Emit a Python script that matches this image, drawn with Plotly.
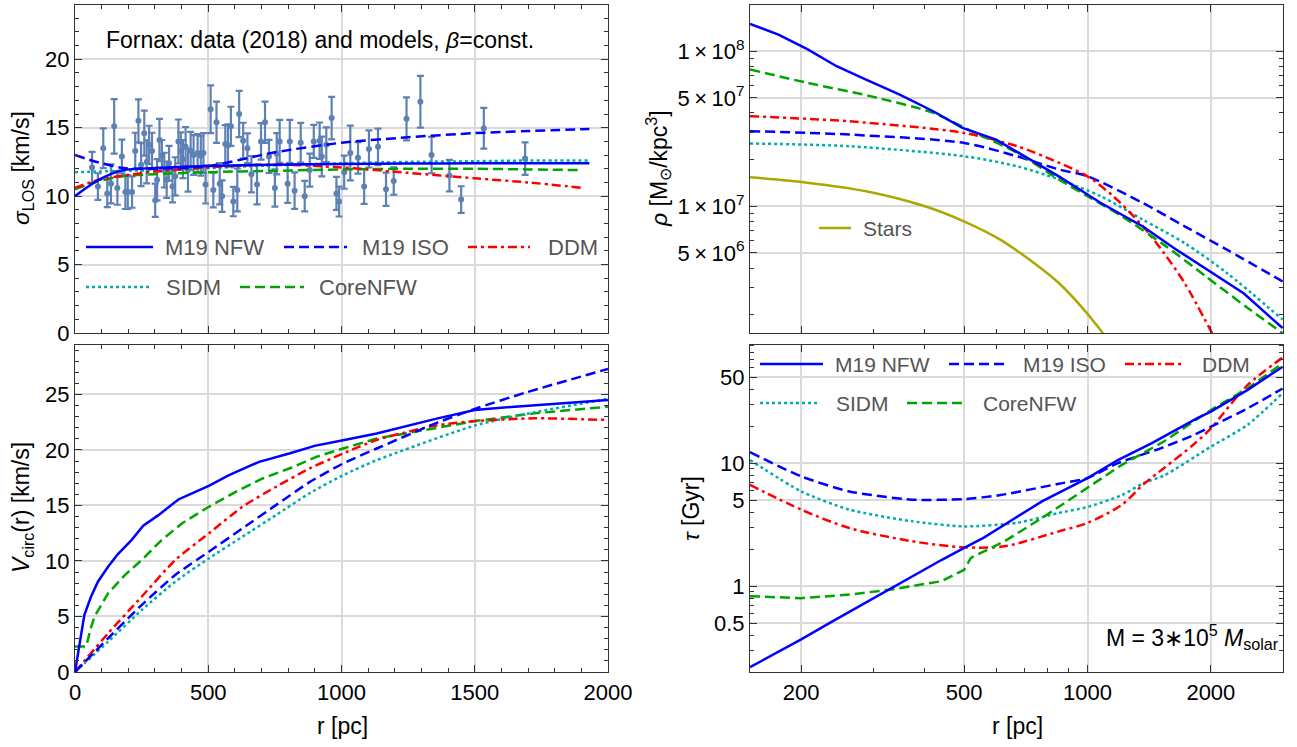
import plotly.graph_objects as go
import math

# ---------------- data: Fornax velocity dispersion points ----------------
r_obs = [64, 86, 106, 121, 135, 147, 159, 176, 189, 198, 214, 226, 238, 248, 260, 269, 278, 289,
         301, 308, 317, 326, 335, 344, 353, 366, 376, 388, 397, 405, 415, 424, 434, 445, 460, 472,
         482, 490, 509, 519, 531, 543, 552, 564, 574, 585, 594, 609, 616, 631, 647, 662, 683, 698,
         713, 728, 750, 757, 768, 798, 806, 824, 847, 862, 881, 896, 918, 926, 943, 963, 981, 991,
         1010, 1033, 1062, 1085, 1103, 1137, 1167, 1196, 1244, 1296, 1338, 1405, 1449, 1534, 1689]
sig_obs = [12.1, 10.7, 13.5, 10.2, 10.9, 15.1, 10.6, 12.9, 10.3, 10.3, 10.3, 13.3, 15.5, 12.3, 14.6,
           12.5, 13.75, 13.3, 9.7, 11.2, 14.1, 12.95, 11.9, 11.2, 12.4, 10.7, 11.45, 14.0, 13.3, 12.7,
           13.6, 11.9, 13.3, 13.0, 13.15, 12.95, 13.15, 10.85, 16.35, 10.45, 15.4, 10.9, 10.0, 13.8,
           13.7, 15.1, 9.6, 10.45, 16.0, 14.05, 13.5, 11.6, 10.85, 14.0, 15.4, 12.9, 10.6, 13.1, 14.0,
           10.9, 14.0, 10.4, 13.9, 10.0, 11.9, 14.0, 14.05, 12.9, 13.75, 15.7, 10.2, 9.6, 11.75, 13.15,
           12.8, 10.7, 13.45, 13.6, 10.5, 11.1, 15.65, 16.9, 13.0, 11.5, 9.75, 14.96, 12.74]
err_obs = [1.13, 0.97, 1.45, 1.0, 1.43, 1.99, 1.23, 1.23, 1.24, 1.24, 1.15, 1.33, 1.57, 1.57, 1.64,
           1.57, 1.39, 1.33, 1.21, 1.51, 1.55, 1.15, 1.27, 1.33, 1.27, 1.15, 1.39, 1.6, 1.36, 1.39,
           1.45, 1.57, 1.39, 1.45, 1.39, 1.45, 1.45, 1.39, 1.74, 1.27, 1.51, 1.51, 1.15, 1.39, 1.54,
           1.43, 1.07, 1.57, 1.69, 1.31, 1.09, 1.33, 1.45, 1.33, 1.51, 1.21, 1.36, 1.51, 1.57, 1.39,
           1.57, 1.33, 1.45, 1.11, 1.21, 1.21, 1.33, 1.45, 1.27, 1.55, 1.21, 1.09, 1.21, 2.0, 1.15,
           1.27, 1.36, 1.33, 1.21, 1.0, 1.57, 1.89, 1.33, 1.15, 0.97, 1.49, 1.19]

# ---------------- sigma_LOS models ----------------
r_sig = [0, 90, 180, 300, 500, 750, 1000, 1250, 1500, 1700, 1930]
sig_nfw = [10.0, 11.2, 11.9, 12.05, 12.2, 12.3, 12.35, 12.38, 12.4, 12.4, 12.4]
sig_iso = [13.0, 12.45, 12.05, 12.0, 12.2, 13.2, 13.9, 14.3, 14.6, 14.75, 14.9]
sig_sidm = [11.75, 11.8, 11.85, 11.9, 12.05, 12.25, 12.4, 12.5, 12.55, 12.6, 12.6]
r_sig2 = [0, 90, 180, 300, 500, 750, 1000, 1250, 1500, 1700, 1905]
sig_ddm = [10.6, 11.2, 11.5, 11.8, 12.1, 12.3, 12.1, 11.7, 11.3, 11.0, 10.6]
sig_core = [10.5, 11.1, 11.45, 11.6, 11.75, 11.85, 11.95, 12.0, 12.0, 11.95, 11.9]

# ---------------- circular velocity ----------------
r_vn = [0, 35, 60, 86, 124, 161, 212, 256, 313, 388, 439, 502, 578, 691, 804, 899, 1006, 1132,
        1353, 1500, 1650, 2000]
v_nfw = [0, 5.13, 6.78, 8.13, 9.48, 10.62, 11.88, 13.17, 14.13, 15.54, 16.08, 16.77, 17.73, 18.93,
         19.68, 20.37, 20.88, 21.48, 22.8, 23.6, 23.9, 24.5]
r_vi = [0, 124, 250, 376, 502, 628, 754, 880, 1006, 1132, 1353, 1500, 1695, 2000]
v_iso = [0, 3.03, 6.03, 8.73, 10.83, 12.93, 15.03, 17.1, 18.78, 20.13, 22.4, 23.7, 25.2, 27.3]
r_vd = [0, 124, 250, 376, 502, 628, 754, 880, 1006, 1132, 1353, 1500, 1725, 2000]
v_ddm = [0, 3.48, 6.78, 10.08, 12.48, 14.88, 16.68, 18.33, 19.68, 20.9, 22.2, 22.6, 22.85, 22.7]
r_vs = [0, 124, 250, 376, 502, 628, 754, 880, 1006, 1132, 1500, 1725, 2000]
v_sidm = [0, 2.73, 5.58, 8.13, 10.23, 12.18, 14.13, 16.1, 17.73, 19.08, 22.2, 23.4, 24.6]
r_vc = [0, 42, 60, 73, 124, 187, 250, 325, 401, 502, 603, 704, 804, 905, 1006, 1132, 1500, 1725, 2000]
v_core = [2.3, 2.3, 4.0, 4.98, 7.08, 8.73, 10.08, 11.88, 13.38, 14.88, 16.23, 17.43, 18.33, 19.38,
          20.13, 21.03, 22.6, 23.3, 23.9]

# ---------------- density profiles ----------------
r_rn = [150, 176, 207, 244, 288, 348, 420, 495, 598, 706, 851, 1078, 1365, 1648, 2085, 2404, 2993]
rho_nfw = [1.50e8, 1.28e8, 1.03e8, 8.0e7, 6.56e7, 5.25e7, 4.10e7, 3.20e7, 2.69e7, 2.09e7, 1.56e7,
           1.05e7, 7.41e6, 5.25e6, 3.53e6, 2.75e6, 1.64e6]
r_ri = [150, 262, 500, 673, 851, 1000, 1365, 1726, 2188, 2993]
rho_iso = [3.05e7, 2.90e7, 2.56e7, 2.10e7, 1.73e7, 1.56e7, 1.05e7, 7.43e6, 5.25e6, 3.28e6]
r_rd = [150, 262, 500, 673, 851, 1000, 1156, 1365, 1535, 1726, 2014]
rho_ddm = [3.81e7, 3.53e7, 2.97e7, 2.44e7, 1.91e7, 1.56e7, 1.16e7, 7.43e6, 5.01e6, 3.20e6, 1.52e6]
r_rs = [150, 262, 500, 673, 851, 1078, 1365, 1726, 2188, 2993]
rho_sidm = [2.54e7, 2.44e7, 2.10e7, 1.81e7, 1.49e7, 1.16e7, 8.2e6, 5.79e6, 3.72e6, 1.86e6]
r_rc = [150, 207, 295, 420, 532, 673, 851, 1000, 1213, 1535, 1944, 2460, 2993]
rho_core = [7.62e7, 6.25e7, 5.13e7, 4.0e7, 2.97e7, 2.21e7, 1.49e7, 1.16e7, 8.61e6, 5.66e6,
            3.53e6, 2.21e6, 1.52e6]
r_star = [150, 207, 288, 401, 499, 612, 740, 851, 981, 1091]
rho_star = [1.54e7, 1.42e7, 1.25e7, 1.0e7, 8.0e6, 6.1e6, 4.31e6, 3.2e6, 2.15e6, 1.52e6]

# ---------------- timescales ----------------
r_tn = [150, 200, 239, 332, 441, 500, 557, 627, 774, 1000, 1186, 1432, 1854, 2000, 2460, 2993]
tau_nfw = [0.22, 0.37, 0.52, 0.97, 1.64, 2.05, 2.47, 3.16, 4.89, 7.55, 10.6, 14.5, 23.2, 26.2, 39.4, 60.8]
r_ti = [150, 200, 262, 373, 500, 613, 851, 1000, 1182, 1508, 1816, 2033, 2460, 2993]
tau_iso = [12.3, 7.8, 5.89, 5.05, 5.1, 5.5, 6.8, 7.55, 9.95, 13.2, 16.9, 20.3, 27.9, 40.4]
r_ts = [150, 200, 262, 373, 500, 673, 851, 1000, 1213, 1370, 1535, 2000, 2460, 2993]
tau_sidm = [10.6, 5.89, 4.19, 3.37, 3.06, 3.27, 3.94, 4.4, 5.5, 6.9, 7.9, 13.6, 20.5, 37.0]
r_td = [150, 200, 262, 373, 500, 627, 851, 1000, 1213, 1365, 1535, 1812, 2000, 2460, 2993]
tau_ddm = [6.67, 4.19, 2.97, 2.32, 2.07, 2.11, 2.79, 3.27, 4.59, 6.67, 9.1, 14.1, 19.2, 43.2, 72.0]
r_tc = [150, 200, 262, 332, 441, 500, 519, 627, 774, 1000, 1213, 1535, 2000, 2460, 2993]
tau_core = [0.83, 0.80, 0.855, 0.94, 1.10, 1.36, 1.70, 2.32, 3.58, 6.27, 9.68, 15.0, 27.0, 40.6, 64.7]

# ---------------- tick labels ----------------
lin_x_ticks = [0, 500, 1000, 1500, 2000]
sig_ticks = [0, 5, 10, 15, 20]
v_ticks = [0, 5, 10, 15, 20, 25]
log_x_ticks = [200, 500, 1000, 2000]
rho_ticks = [5e6, 1e7, 5e7, 1e8]
rho_ticktext = ["5\u2009×\u200910<sup>6</sup>", "1\u2009×\u200910<sup>7</sup>",
                "5\u2009×\u200910<sup>7</sup>", "1\u2009×\u200910<sup>8</sup>"]
tau_ticks = [0.5, 1, 5, 10, 50]
tau_ticktext = ["0.5", "1", "5", "10", "50"]
log_x_minor = [300, 400, 600, 700, 800, 900, 3000]
rho_minor = [2e6, 3e6, 4e6, 6e6, 7e6, 8e6, 9e6, 2e7, 3e7, 4e7, 6e7, 7e7, 8e7, 9e7, 2e8]
tau_minor = [0.3, 0.4, 0.6, 0.7, 0.8, 0.9, 2, 3, 4, 6, 7, 8, 9, 20, 30, 40, 60, 70, 80, 90]

W, H = 1297, 747
FONT = "Liberation Sans, Arial, sans-serif"


def px(x):
    return x / W


def py(y):
    return 1 - y / H


BLUE = "#0000FF"
RED = "#FF0000"
CYAN = "#00ADAD"
GREEN = "#00A500"
OLIVE = "#ACA800"
PT = "#5E81B5"

STY = {
    "M19 NFW": dict(color=BLUE, width=2.5, dash="solid"),
    "M19 ISO": dict(color=BLUE, width=2.5, dash="10px,5px"),
    "DDM": dict(color=RED, width=2.5, dash="9px,4px,3px,4px"),
    "SIDM": dict(color=CYAN, width=2.5, dash="3px,3px"),
    "CoreNFW": dict(color=GREEN, width=2.5, dash="10px,5px"),
    "Stars": dict(color=OLIVE, width=2.5, dash="solid"),
}

fig = go.Figure()

# panel 1: data
fig.add_trace(go.Scatter(
    x=r_obs, y=sig_obs, mode="markers", xaxis="x", yaxis="y",
    marker=dict(color=PT, size=6),
    error_y=dict(type="data", array=err_obs, color=PT, thickness=2.2, width=3.5),
    showlegend=False, hoverinfo="skip"))


def curve(x, y, name, xa, ya, shape="spline", smooth=0.8):
    line = dict(**STY[name])
    if shape == "spline":
        line.update(shape="spline", smoothing=smooth)
    fig.add_trace(go.Scatter(x=x, y=y, mode="lines", xaxis=xa, yaxis=ya, line=line,
                             showlegend=False, hoverinfo="skip"))


# panel 1 models
curve(r_sig2, sig_core, "CoreNFW", "x", "y")
curve(r_sig, sig_sidm, "SIDM", "x", "y")
curve(r_sig2, sig_ddm, "DDM", "x", "y")
curve(r_sig, sig_iso, "M19 ISO", "x", "y")
curve(r_sig, sig_nfw, "M19 NFW", "x", "y")

# panel 3 (Vcirc)
curve(r_vc, v_core, "CoreNFW", "x3", "y3", shape="linear")
curve(r_vs, v_sidm, "SIDM", "x3", "y3", smooth=0.6)
curve(r_vd, v_ddm, "DDM", "x3", "y3", smooth=0.6)
curve(r_vi, v_iso, "M19 ISO", "x3", "y3", smooth=0.6)
curve(r_vn, v_nfw, "M19 NFW", "x3", "y3", shape="linear")

# panel 2 (density)
curve(r_star, rho_star, "Stars", "x2", "y2")
curve(r_rs, rho_sidm, "SIDM", "x2", "y2")
curve(r_ri, rho_iso, "M19 ISO", "x2", "y2")
curve(r_rd, rho_ddm, "DDM", "x2", "y2")
curve(r_rc, rho_core, "CoreNFW", "x2", "y2")
curve(r_rn, rho_nfw, "M19 NFW", "x2", "y2", shape="linear")

# panel 4 (timescale)
curve(r_ts, tau_sidm, "SIDM", "x4", "y4", smooth=0.6)
curve(r_td, tau_ddm, "DDM", "x4", "y4")
curve(r_ti, tau_iso, "M19 ISO", "x4", "y4", smooth=0.6)
curve(r_tc, tau_core, "CoreNFW", "x4", "y4", shape="linear")
curve(r_tn, tau_nfw, "M19 NFW", "x4", "y4", shape="linear")

common = dict(showline=True, linecolor="#333333", linewidth=1.2, mirror="allticks",
              ticks="inside", ticklen=7, tickwidth=1, tickcolor="#333333",
              showgrid=True, gridcolor="#DADADA", gridwidth=1.5, zeroline=False,
              automargin=False,
              tickfont=dict(family=FONT, size=22, color="black"))

LX = [px(75), px(608)]
RX = [px(750), px(1283)]
TY = [py(333), py(4.5)]
BY = [py(672), py(344.5)]

MINOR = dict(ticks="inside", ticklen=4, tickcolor="#333333", showgrid=False)

fig.update_layout(
    width=W, height=H, margin=dict(l=0, r=0, t=0, b=0, autoexpand=False),
    paper_bgcolor="white", plot_bgcolor="white",
    font=dict(family=FONT, size=22, color="black"),
    showlegend=False,
    xaxis=dict(common, domain=LX, anchor="y", range=[0, 2000], tickvals=lin_x_ticks,
               showticklabels=False, minor=dict(MINOR, dtick=100)),
    yaxis=dict(common, domain=TY, anchor="x", range=[0, 24], tickvals=sig_ticks,
               minor=dict(MINOR, dtick=1)),
    xaxis3=dict(common, domain=LX, anchor="y3", range=[0, 2000], tickvals=lin_x_ticks,
                minor=dict(MINOR, dtick=100)),
    yaxis3=dict(common, domain=BY, anchor="x3", range=[0, 29.5], tickvals=v_ticks,
                minor=dict(MINOR, dtick=1)),
    xaxis2=dict(common, type="log", domain=RX, anchor="y2",
                range=[math.log10(150), math.log10(3000)], tickvals=log_x_ticks,
                showticklabels=False,
                minor=dict(MINOR, tickmode="array", tickvals=log_x_minor)),
    yaxis2=dict(common, type="log", domain=TY, anchor="x2", range=[6.183, 8.301],
                tickvals=rho_ticks, ticktext=rho_ticktext,
                minor=dict(MINOR, tickmode="array", tickvals=rho_minor)),
    xaxis4=dict(common, type="log", domain=RX, anchor="y4",
                range=[math.log10(150), math.log10(3000)], tickvals=log_x_ticks,
                ticktext=[str(v) for v in log_x_ticks],
                minor=dict(MINOR, tickmode="array", tickvals=log_x_minor)),
    yaxis4=dict(common, type="log", domain=BY, anchor="x4", range=[-0.697, 1.964],
                tickvals=tau_ticks, ticktext=tau_ticktext,
                minor=dict(MINOR, tickmode="array", tickvals=tau_minor)),
)


def text(x, y, s, size=22, color="black", xanchor="center", angle=0):
    fig.add_annotation(xref="paper", yref="paper", x=px(x), y=py(y), text=s, showarrow=False,
                       xanchor=xanchor, yanchor="middle", textangle=angle,
                       font=dict(family=FONT, size=size, color=color))


def legend_entry(x0, x1, y, tx, name, size=22):
    st = STY[name]
    fig.add_shape(type="line", xref="paper", yref="paper", x0=px(x0), x1=px(x1),
                  y0=py(y), y1=py(y), line=dict(color=st["color"], width=st["width"], dash=st["dash"]))
    text(tx, y, name, size=size, color="#555555", xanchor="left")


# panel 1 legend
legend_entry(86, 153, 247, 163, "M19 NFW")
legend_entry(284, 347, 247, 360, "M19 ISO")
legend_entry(468, 530, 247, 546, "DDM")
legend_entry(86, 150, 287, 164, "SIDM")
legend_entry(240, 304, 287, 317, "CoreNFW")
# panel 4 legend
legend_entry(760, 823, 364, 833, "M19 NFW", 21)
legend_entry(949, 1008, 364, 1021, "M19 ISO", 21)
legend_entry(1125, 1183, 364, 1200, "DDM", 21)
legend_entry(760, 820, 403, 834, "SIDM", 21)
legend_entry(907, 967, 403, 981, "CoreNFW", 21)
# stars legend
legend_entry(819, 851, 228, 861, "Stars", 21)

# titles / labels
text(104, 40, "Fornax: data (2018) and models, <i>β</i>=const.", size=23, xanchor="left")
text(1281, 637, "M = 3∗10<sup>5</sup> <i>M</i><sub>solar</sub>", size=23, xanchor="right")
text(22, 168, "<i>σ</i><sub>LOS</sub> [km/s]", size=23, angle=-90)
text(22, 508, "<i>V</i><sub>circ</sub>(r) [km/s]", size=23, angle=-90)
text(342, 726, "r [pc]", size=23)
text(1017, 726, "r [pc]", size=23)
text(658, 169, "<i>ρ</i> [M<sub>⊙</sub>/kpc<sup>3</sup>]", size=23, angle=-90)
text(691, 509, "<i>τ</i> [Gyr]", size=23, angle=-90)

fig.write_html("out.html", config={"displayModeBar": False},
               post_script="document.body.style.margin='0';document.body.style.overflow='hidden';")
